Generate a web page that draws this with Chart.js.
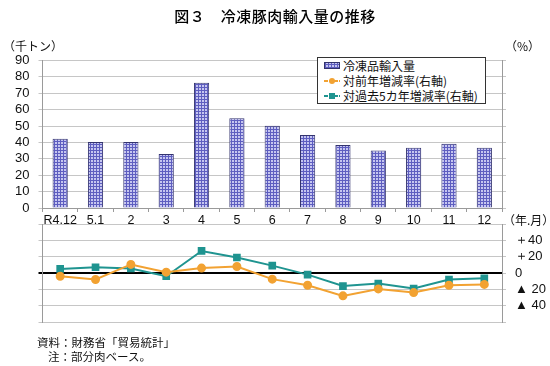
<!DOCTYPE html>
<html>
<head>
<meta charset="utf-8">
<script src="https://cdn.jsdelivr.net/npm/chart.js@4"></script>
<style>
  body { margin: 0; background: #fff; }
  #wrap { position: relative; width: 550px; height: 366px; font-family: "Liberation Sans", "Noto Sans CJK JP", sans-serif; color: #111; }
  #wrap canvas { position: absolute; left: 0; top: 0; }
  .txt { position: absolute; white-space: nowrap; font-family: "Noto Sans CJK JP", sans-serif; }
  #title { left: 0; width: 550px; top: 5px; text-align: center; font-size: 15px; font-weight: 500; letter-spacing: 0.5px; color: #000; }
  #legend { position: absolute; left: 317px; top: 57px; width: 167px; height: 45px; border: 1px solid #333; background: #fff;
            font-family: "Noto Sans CJK JP", sans-serif; font-size: 12px; }
  .row { position: absolute; left: 6px; height: 15px; line-height: 15px; }
  .row .ic { position: absolute; left: 0; top: 4px; width: 16px; height: 7px; }
  .row .lb { position: absolute; left: 19px; top: 0; white-space: nowrap; }
</style>
</head>
<body>
<div id="wrap">
  <canvas id="barChart" width="550" height="366"></canvas>
  <canvas id="rateChart" width="550" height="366"></canvas>
  <div id="title" class="txt">図３　冷凍豚肉輸入量の推移</div>
  <div class="txt" style="left:3px; top:37px; font-size:12px;">（千トン）</div>
  <div class="txt" style="left:505px; top:37px; font-size:12px;">（%）</div>
  <div class="txt" style="left:503px; top:211px; font-size:12px;">（年.月）</div>
  <div id="legend"></div>
  <div class="txt" style="left:37px; top:334px; font-size:11.5px;">資料：財務省「貿易統計」</div>
  <div class="txt" style="left:48px; top:348px; font-size:11.5px;">注：部分肉ベース。</div>
</div>
<script>
// ---- data ----
const categories = ['R4.12', '5.1', '2', '3', '4', '5', '6', '7', '8', '9', '10', '11', '12'];
const importVolume = [42.2, 40.2, 40.2, 32.9, 76.4, 54.7, 50.2, 44.5, 38.4, 35.1, 36.7, 39.2, 36.7];
const yoyRate = [-4, -8, 10.5, 1, 6, 8, -7.5, -15, -28, -19.5, -24, -15, -14];
const fiveYearRate = [5, 7, 5.5, -4, 27, 19, 9, -2, -16, -13, -19, -8, -6.5];
const seriesNames = ['冷凍品輸入量', '対前年増減率(右軸)', '対過去5カ年増減率(右軸)'];
const rateTickLabels = { 40: '＋40', 20: '＋20', 0: '0', '-20': '▲ 20', '-40': '▲ 40' };

const orange = '#f2a232';
const teal = '#1f9490';
const gridGrey = '#c6c6c6';
const axisGrey = '#9a9a9a';
const tickFont = { family: '"Liberation Sans", Arial, sans-serif', size: 13 };

// hatched bar fill
function makePattern() {
  const c = document.createElement('canvas');
  c.width = 3; c.height = 3;
  const g = c.getContext('2d');
  g.fillStyle = '#c6c6f0';
  g.fillRect(0, 0, 3, 3);
  g.fillStyle = '#5e5ec0';
  g.fillRect(0, 0, 3, 1);
  g.fillRect(0, 0, 1, 3);
  return g.createPattern(c, 'repeat');
}
const barFill = makePattern();

const PLOT_LEFT = 42.5;
const PLOT_RIGHT = 502;

// ---- top: bar chart ----
new Chart(document.getElementById('barChart'), {
  type: 'bar',
  data: {
    labels: categories,
    datasets: [{
      label: seriesNames[0],
      data: importVolume,
      backgroundColor: barFill,
      borderColor: '#34346e',
      borderWidth: 1,
      barPercentage: 0.43,
      categoryPercentage: 1
    }]
  },
  options: {
    responsive: false,
    animation: false,
    layout: { padding: { top: 60.5, bottom: 133, left: 0, right: 0 } },
    plugins: { legend: { display: false }, tooltip: { enabled: false } },
    scales: {
      x: {
        offset: true,
        grid: { drawOnChartArea: false, drawTicks: true, tickLength: 4, color: axisGrey, offset: true },
        border: { color: axisGrey },
        ticks: { color: '#111', font: { family: tickFont.family, size: 12.5 }, padding: 1, maxRotation: 0, autoSkip: false },
        afterFit: s => { s.height = 25; }
      },
      y: {
        min: 0, max: 90,
        ticks: { stepSize: 10, color: '#111', font: tickFont, padding: 9, autoSkip: false },
        grid: { color: gridGrey, tickLength: 4 },
        border: { color: axisGrey },
        afterFit: s => { s.width = PLOT_LEFT; }
      },
      y2: {
        position: 'right',
        min: 0, max: 90,
        ticks: { stepSize: 10, autoSkip: false, callback: () => '' },
        grid: { drawOnChartArea: false, tickLength: 4, color: gridGrey },
        border: { color: axisGrey },
        afterFit: s => { s.width = 550 - PLOT_RIGHT; }
      }
    }
  }
});

// ---- bottom: rate lines ----
new Chart(document.getElementById('rateChart'), {
  type: 'line',
  data: {
    labels: categories,
    datasets: [
      {
        label: seriesNames[1],
        data: yoyRate,
        borderColor: orange,
        backgroundColor: orange,
        borderWidth: 2,
        pointStyle: 'circle',
        pointRadius: 3.5,
        yAxisID: 'y2'
      },
      {
        label: seriesNames[2],
        data: fiveYearRate,
        borderColor: teal,
        backgroundColor: teal,
        borderWidth: 2,
        pointStyle: 'rect',
        pointRadius: 4,
        yAxisID: 'y2'
      }
    ]
  },
  options: {
    responsive: false,
    animation: false,
    layout: { padding: { top: 224, bottom: 44, left: 0, right: 0 } },
    plugins: { legend: { display: false }, tooltip: { enabled: false } },
    scales: {
      x: { display: false, offset: true },
      y: {
        min: -60, max: 60,
        ticks: { stepSize: 20, autoSkip: false, callback: () => '' },
        grid: {
          tickLength: 4,
          color: c => c.tick && c.tick.value === 0 ? '#000' : gridGrey,
          lineWidth: c => c.tick && c.tick.value === 0 ? 2 : 1
        },
        border: { color: axisGrey },
        afterFit: s => { s.width = PLOT_LEFT; }
      },
      y2: {
        position: 'right',
        min: -60, max: 60,
        ticks: {
          stepSize: 20, autoSkip: false, color: '#111', font: tickFont, padding: 9,
          callback: v => rateTickLabels[v] !== undefined ? rateTickLabels[v] : ''
        },
        grid: { drawOnChartArea: false, tickLength: 4, color: gridGrey },
        border: { color: axisGrey },
        afterFit: s => { s.width = 550 - PLOT_RIGHT; }
      }
    }
  }
});

// ---- legend box ----
const legend = document.getElementById('legend');
const icons = [
  '<span class="ic" style="background:repeating-linear-gradient(90deg,#5e5ec0 0 1px,transparent 1px 3px),repeating-linear-gradient(0deg,#5e5ec0 0 1px,#c6c6f0 1px 3px);border:1px solid #34346e;box-sizing:border-box;"></span>',
  `<span class="ic" style="height:15px;top:0;"><span style="position:absolute;left:0;top:7px;width:16px;height:2px;background:repeating-linear-gradient(90deg,${orange} 0 4px,transparent 4px 5px);"></span><span style="position:absolute;left:5px;top:5px;width:6px;height:6px;border-radius:50%;background:${orange};"></span></span>`,
  `<span class="ic" style="height:15px;top:0;"><span style="position:absolute;left:0;top:7px;width:16px;height:2px;background:repeating-linear-gradient(90deg,${teal} 0 4px,transparent 4px 5px);"></span><span style="position:absolute;left:5px;top:5px;width:6px;height:6px;background:${teal};"></span></span>`
];
seriesNames.forEach((name, i) => {
  const row = document.createElement('div');
  row.className = 'row';
  row.style.top = (i * 15 + 0) + 'px';
  row.innerHTML = icons[i] + '<span class="lb">' + name + '</span>';
  legend.appendChild(row);
});
</script>
</body>
</html>
